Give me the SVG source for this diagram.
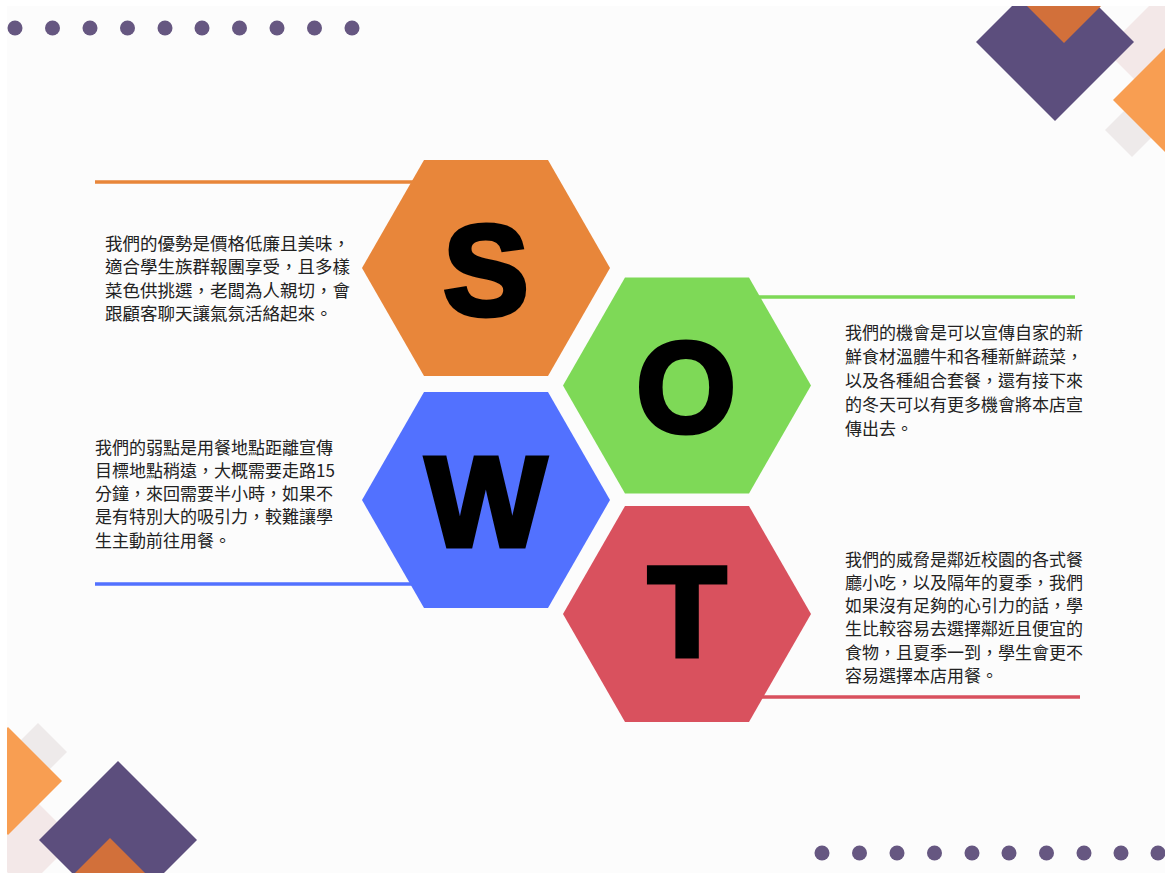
<svg xmlns="http://www.w3.org/2000/svg" width="1165" height="873" viewBox="0 0 1165 873">
<defs>
<style>
.dot{fill:#665781}
.purple{fill:#5C4E7D}
.dorange{fill:#D2703A}
.lorange{fill:#F89E52}
.pale{fill:#F3E8E8}
.pale2{fill:#EEEAEA}
.letter{font-family:"Liberation Sans",Arial,sans-serif;font-weight:bold;font-size:128px;fill:#000;stroke:#000;stroke-width:5;stroke-linejoin:miter;stroke-miterlimit:3;text-anchor:middle}
.body{font-family:"Noto Sans CJK TC","Noto Sans CJK SC",sans-serif;font-size:17px;fill:#222}
.ln{stroke-width:3.5;fill:none}
</style>
<clipPath id="page"><rect x="7" y="6" width="1158" height="867"/></clipPath>
</defs>
<rect width="1165" height="873" fill="#FFFFFF"/>
<rect x="7" y="6" width="1158" height="867" fill="#FCFCFC"/>
<g id="decor" clip-path="url(#page)">
  <!-- top-right -->
  <polygon class="pale" points="1160,-5 1215,50 1160,105 1105,50"/>
  <polygon class="pale2" points="1132,103 1159,130 1132,157 1105,130"/>
  <polygon class="purple" points="1055,-37 1134,42 1055,121 976,42"/>
  <polygon class="dorange" points="1064,-43 1107,0 1064,43 1021,0"/>
  <polygon class="lorange" points="1175,38 1237,100 1175,162 1113,100"/>
  <!-- bottom-left -->
  <polygon class="pale2" points="38,723 67,752 38,781 9,752"/>
  <polygon class="pale" points="25,790 75,840 25,890 -25,840"/>
  <polygon class="lorange" points="8,727 62,781 8,835 -46,781"/>
  <polygon class="purple" points="118,761 197,840 118,919 39,840"/>
  <polygon class="dorange" points="110,838 153,881 110,924 67,881"/>
  <!-- dots -->
  <g id="dots-top">
    <circle class="dot" cx="15" cy="28" r="7.5"/><circle class="dot" cx="52.5" cy="28" r="7.5"/><circle class="dot" cx="90" cy="28" r="7.5"/><circle class="dot" cx="127.5" cy="28" r="7.5"/><circle class="dot" cx="165" cy="28" r="7.5"/><circle class="dot" cx="202" cy="28" r="7.5"/><circle class="dot" cx="239.5" cy="28" r="7.5"/><circle class="dot" cx="277" cy="28" r="7.5"/><circle class="dot" cx="314.5" cy="28" r="7.5"/><circle class="dot" cx="352" cy="28" r="7.5"/>
  </g>
  <g id="dots-bottom">
    <circle class="dot" cx="822" cy="853" r="7.5"/><circle class="dot" cx="859.5" cy="853" r="7.5"/><circle class="dot" cx="897" cy="853" r="7.5"/><circle class="dot" cx="934.5" cy="853" r="7.5"/><circle class="dot" cx="972" cy="853" r="7.5"/><circle class="dot" cx="1009" cy="853" r="7.5"/><circle class="dot" cx="1046.5" cy="853" r="7.5"/><circle class="dot" cx="1084" cy="853" r="7.5"/><circle class="dot" cx="1121" cy="853" r="7.5"/><circle class="dot" cx="1158" cy="853" r="7.5"/>
  </g>
</g>
<g id="connectors">
  <line class="ln" x1="95" y1="182" x2="430" y2="182" stroke="#E8863A"/>
  <line class="ln" x1="740" y1="297" x2="1075" y2="297" stroke="#7ED957"/>
  <line class="ln" x1="95" y1="584" x2="430" y2="584" stroke="#5271FF"/>
  <line class="ln" x1="740" y1="697" x2="1080" y2="697" stroke="#D9515E"/>
</g>
<g id="node-S">
  <polygon points="362,268 424,160 548,160 610,268 548,376 424,376" fill="#E8863A"/>
  <text class="letter" x="486" y="315">S</text>
</g>
<g id="node-O">
  <polygon points="563,385.5 625,277.5 749,277.5 811,385.5 749,493.5 625,493.5" fill="#7ED957"/>
  <text class="letter" x="686" y="432">O</text>
</g>
<g id="node-W">
  <polygon points="362,500 424,392 548,392 610,500 548,608 424,608" fill="#5271FF"/>
  <text class="letter" x="486" y="546">W</text>
</g>
<g id="node-T">
  <polygon points="563,614 625,506 749,506 811,614 749,722 625,722" fill="#D9515E"/>
  <text class="letter" x="687" y="656">T</text>
</g>
<g id="text-S">
  <text class="body" style="font-size:17.5px">
    <tspan x="105" y="249.5">我們的優勢是價格低廉且美味，</tspan>
    <tspan x="105" y="273">適合學生族群報團享受，且多樣</tspan>
    <tspan x="105" y="296.5">菜色供挑選，老闆為人親切，會</tspan>
    <tspan x="105" y="320">跟顧客聊天讓氣氛活絡起來。</tspan>
  </text>
</g>
<g id="text-W">
  <text class="body">
    <tspan x="95" y="453.5">我們的弱點是用餐地點距離宣傳</tspan>
    <tspan x="95" y="476.8">目標地點稍遠，大概需要走路15</tspan>
    <tspan x="95" y="500.1">分鐘，來回需要半小時，如果不</tspan>
    <tspan x="95" y="523.4">是有特別大的吸引力，較難讓學</tspan>
    <tspan x="95" y="546.7">生主動前往用餐。</tspan>
  </text>
</g>
<g id="text-O">
  <text class="body">
    <tspan x="845" y="338.5">我們的機會是可以宣傳自家的新</tspan>
    <tspan x="845" y="362.5">鮮食材溫體牛和各種新鮮蔬菜，</tspan>
    <tspan x="845" y="386.5">以及各種組合套餐，還有接下來</tspan>
    <tspan x="845" y="410.5">的冬天可以有更多機會將本店宣</tspan>
    <tspan x="845" y="434.5">傳出去。</tspan>
  </text>
</g>
<g id="text-T">
  <text class="body">
    <tspan x="845" y="565.5">我們的威脅是鄰近校園的各式餐</tspan>
    <tspan x="845" y="588.8">廳小吃，以及隔年的夏季，我們</tspan>
    <tspan x="845" y="612.1">如果沒有足夠的心引力的話，學</tspan>
    <tspan x="845" y="635.4">生比較容易去選擇鄰近且便宜的</tspan>
    <tspan x="845" y="658.7">食物，且夏季一到，學生會更不</tspan>
    <tspan x="845" y="682">容易選擇本店用餐。</tspan>
  </text>
</g>
</svg>
